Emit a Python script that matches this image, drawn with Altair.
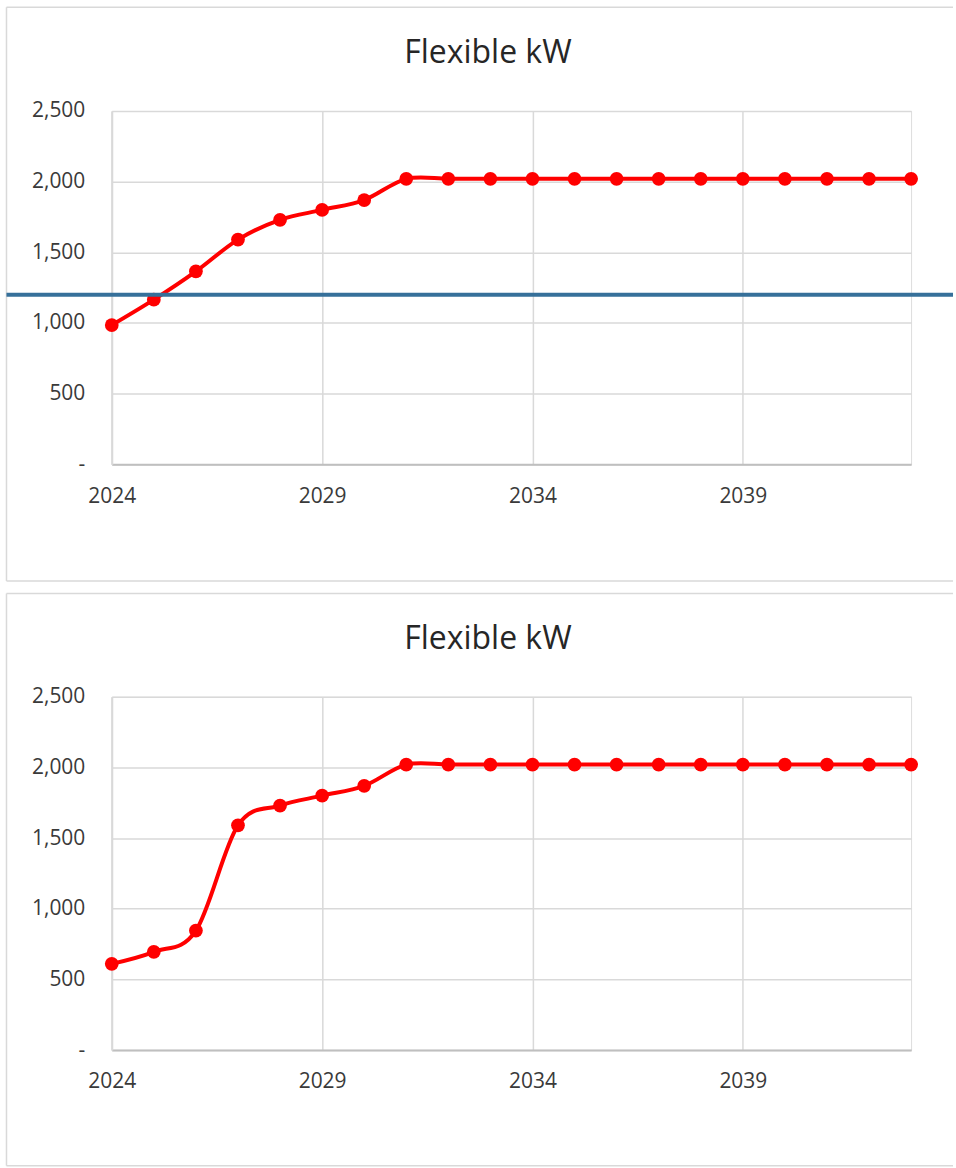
import altair as alt
import pandas as pd

# ---- data -------------------------------------------------------------
years = list(range(2024, 2044))
kw_upper = [985, 1165, 1365, 1590, 1730, 1800, 1870, 2020, 2020, 2020,
            2020, 2020, 2020, 2020, 2020, 2020, 2020, 2020, 2020, 2020]
kw_lower = [610, 695, 845, 1590, 1730, 1800, 1870, 2020, 2020, 2020,
            2020, 2020, 2020, 2020, 2020, 2020, 2020, 2020, 2020, 2020]
threshold_kw = [1200]
x_ticks = [2024, 2029, 2034, 2039]
y_ticks = [0, 500, 1000, 1500, 2000, 2500]
chart_title = "Flexible kW"

# ---- styling ----------------------------------------------------------
W, H = 801, 354
FONT = "Open Sans"
GRID = "#d9d9d9"
AXIS = "#bfbfbf"
LABEL = "#3a3a3a"
RED = "#ff0000"
BLUE = "#36709a"
FRAME_LEFT, FRAME_RIGHT = -105.5, 843

x_enc = alt.X(
    "year:Q",
    scale=alt.Scale(domain=[2024, 2043], nice=False, zero=False),
    axis=alt.Axis(values=x_ticks, format="d", title="", grid=True, ticks=False,
                  domain=True, domainColor=AXIS, domainWidth=2,
                  gridColor=GRID, gridWidth=1.5, labelPadding=21,
                  labelFlush=False, labelFontSize=21, labelFont=FONT,
                  labelColor=LABEL),
)
y_enc = alt.Y(
    "kw:Q",
    scale=alt.Scale(domain=[0, 2500], nice=False),
    axis=alt.Axis(values=y_ticks, title="", grid=True, ticks=False,
                  domain=True, domainColor=GRID, domainWidth=2,
                  gridColor=GRID, gridWidth=1.5, labelPadding=27,
                  labelFlush=False, labelFontSize=21, labelFont=FONT,
                  labelColor=LABEL,
                  labelExpr="datum.value == 0 ? '-\u00a0\u00a0' : format(datum.value, ',')"),
)

one_row = pd.DataFrame({"k": [0]})


def panel(values, frame_top, frame_bottom, with_threshold):
    df = pd.DataFrame({"year": years, "kw": values})

    # chart-area border: top, left and bottom edges
    border = [
        alt.Chart(one_row).mark_rule(color=GRID, strokeWidth=1.5).encode(
            x=alt.value(FRAME_LEFT), x2=alt.value(FRAME_RIGHT), y=alt.value(frame_top)),
        alt.Chart(one_row).mark_rule(color=GRID, strokeWidth=1.5).encode(
            x=alt.value(FRAME_LEFT), x2=alt.value(FRAME_RIGHT), y=alt.value(frame_bottom)),
        alt.Chart(one_row).mark_rule(color=GRID, strokeWidth=1.5).encode(
            x=alt.value(FRAME_LEFT), y=alt.value(frame_top), y2=alt.value(frame_bottom)),
    ]

    line = alt.Chart(df).mark_line(
        interpolate="cardinal", color=RED, strokeWidth=4
    ).encode(x=x_enc, y=y_enc)
    points = alt.Chart(df).mark_circle(
        size=190, color=RED, opacity=1
    ).encode(x=x_enc, y=y_enc)

    layers = border + [line, points]

    if with_threshold:
        limit = alt.Chart(pd.DataFrame({"kw": threshold_kw})).mark_rule(
            color=BLUE, strokeWidth=4
        ).encode(y=y_enc, x=alt.value(FRAME_LEFT), x2=alt.value(FRAME_RIGHT))
        layers.append(limit)

    title = alt.Chart(one_row).mark_text(
        font=FONT, fontSize=32, color="#262626", align="center", baseline="alphabetic"
    ).encode(text=alt.value(chart_title), x=alt.value(377), y=alt.value(-48))
    layers.append(title)

    return alt.layer(*layers).properties(width=W, height=H)


top = panel(kw_upper, -104, 471, True)
bottom = panel(kw_lower, -103.5, 470, False)

chart = (
    alt.vconcat(top, bottom, spacing=233, bounds="flush")
    .properties(padding={"left": 4, "top": 4, "right": 0, "bottom": 0})
    .configure_view(strokeWidth=0)
    .configure(background="white")
)

chart.save("out.html", embed_options={"renderer": "svg", "actions": False})
